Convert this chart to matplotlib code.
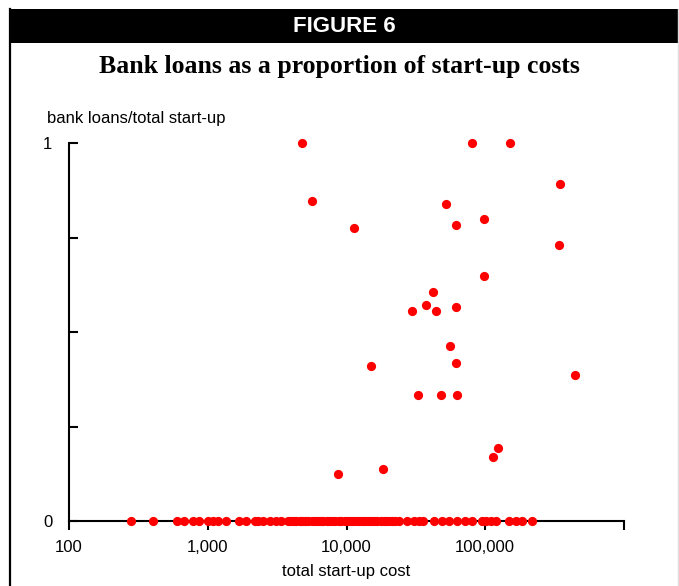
import matplotlib
matplotlib.use("Agg")
import matplotlib.pyplot as plt
from matplotlib.lines import Line2D
from matplotlib.patches import Rectangle
from matplotlib.ticker import FixedLocator, FixedFormatter

plt.rcParams['font.family'] = ['Liberation Sans', 'DejaVu Sans']

# firms with some bank finance: start-up cost and bank share
cost_loan = [4800, 80600, 151000, 5600, 11400, 52400, 98500, 61800, 347000,
             341000, 98000, 42300, 37700, 29800, 44400, 61800, 55900, 61800,
             14900, 444000, 32500, 48200, 63000, 124000, 114000, 18400, 8750]
share_loan = [1.0, 1.0, 1.0, 0.847, 0.775, 0.839, 0.80, 0.783, 0.892,
              0.730, 0.648, 0.606, 0.571, 0.556, 0.556, 0.566, 0.463, 0.418,
              0.41, 0.386, 0.333, 0.333, 0.333, 0.193, 0.169, 0.138, 0.124]

# firms with no bank loan at all
cost_none = [280, 400, 600, 670, 780, 860, 1000, 1090, 1180, 1350, 1670, 1900,
             2200, 2300, 2500, 2800, 3100, 3400, 3800, 4000, 4150, 4350, 4600,
             4800, 5050, 5300, 5600, 5900, 6200, 6500, 6800, 7200, 7500, 7900,
             8300, 8800, 9200, 9700, 10200, 10700, 11200, 11800, 12400, 13000,
             13700, 14400, 15100, 15900, 16700, 17600, 18500, 19400, 20400,
             21400, 22500, 24000, 27500, 30800, 33500, 35800, 43000, 49000,
             55000, 63000, 72000, 80600, 95000, 102000, 110000, 120000, 149000,
             167000, 185000, 218000]
share_none = [0.0] * len(cost_none)

x_ticks = [100, 1000, 10000, 100000, 1000000]
x_labels = ['100', '1,000', '10,000', '100,000', '']
y_ticks = [0, 0.25, 0.5, 0.75, 1]
y_labels = ['0', '', '', '', '1']

fig = plt.figure(figsize=(6.79, 5.86), dpi=100)
W, H = 679, 586

# header bar and frame
fig.add_artist(Rectangle((9 / W, 1 - 43 / H), 1 - 9 / W, 34 / H,
                         transform=fig.transFigure, facecolor='black',
                         edgecolor='none'))
fig.add_artist(Line2D([10 / W, 10 / W], [0, 1 - 9 / H],
                      transform=fig.transFigure, color='black', lw=1.6))
fig.add_artist(Line2D([677.5 / W, 677.5 / W], [0, 1 - 9 / H],
                      transform=fig.transFigure, color='#dddddd', lw=1))
fig.text(344 / W, 1 - 27 / H, 'FIGURE 6', color='white', fontsize=16,
         fontweight='bold', ha='center', va='center')
fig.text(339 / W, 1 - 66 / H, 'Bank loans as a proportion of start-up costs',
         family=['Liberation Serif', 'DejaVu Serif'], fontsize=18.5,
         fontweight='bold', ha='center', va='center')
fig.text(47 / W, 1 - 119 / H, 'bank loans/total start-up', fontsize=12,
         ha='left', va='center')

ax = fig.add_axes([69 / W, 65 / H, 555 / W, 378 / H])
ax.scatter(cost_none, share_none, s=44, color='#ff0000', zorder=3,
           clip_on=False, linewidths=0)
ax.scatter(cost_loan, share_loan, s=44, color='#ff0000', zorder=3,
           clip_on=False, linewidths=0)

ax.set_xscale('log')
ax.set_xlim(100, 1000000)
ax.set_ylim(0, 1)
ax.xaxis.set_major_locator(FixedLocator(x_ticks))
ax.xaxis.set_major_formatter(FixedFormatter(x_labels))
ax.xaxis.set_minor_locator(FixedLocator([]))
ax.yaxis.set_major_locator(FixedLocator(y_ticks))
ax.yaxis.set_major_formatter(FixedFormatter(y_labels))

for side in ['top', 'right']:
    ax.spines[side].set_visible(False)
for side in ['left', 'bottom']:
    ax.spines[side].set_linewidth(1.5)

ax.tick_params(axis='x', direction='out', length=6.5, width=1.5, pad=7.5,
               labelsize=12)
ax.tick_params(axis='y', direction='in', length=6.5, width=1.5, pad=12,
               labelsize=12)
ax.set_xlabel('total start-up cost', fontsize=12, labelpad=6)

fig.savefig('out.png', dpi=100)
